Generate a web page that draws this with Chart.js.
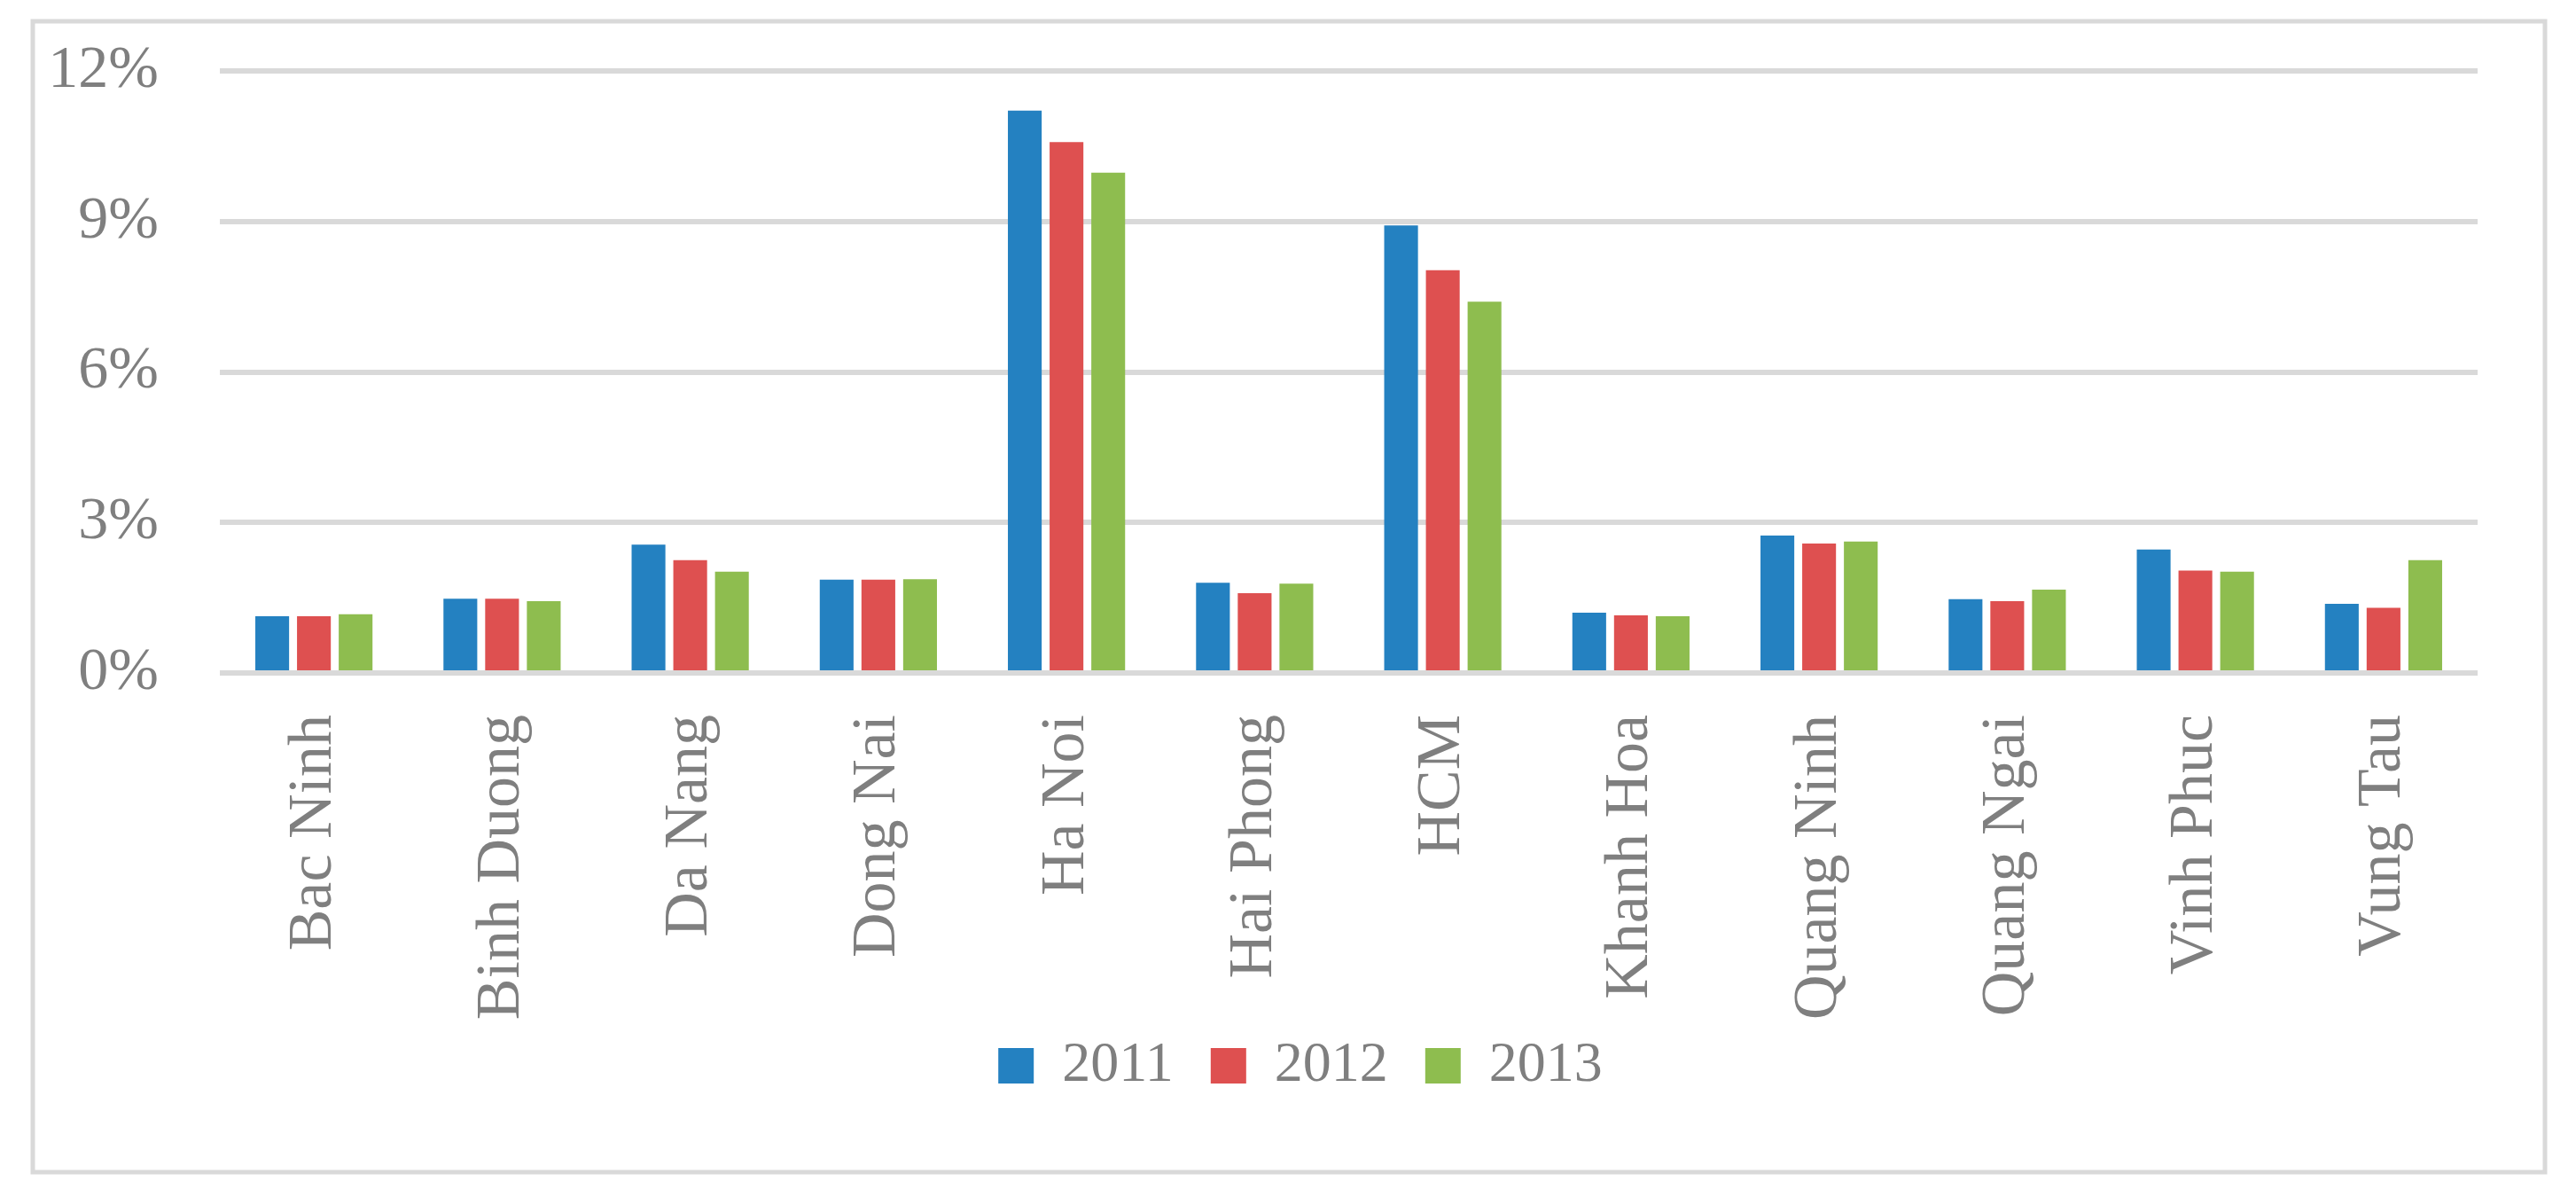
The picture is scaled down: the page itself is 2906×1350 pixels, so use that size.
<!DOCTYPE html>
<html lang="en">
<head>
    <meta charset="UTF-8">
    <title>Provinces share 2011-2013</title>
    <style>
        * { margin: 0; padding: 0; box-sizing: border-box; }
        body { background-color: #ffffff; width: 2906px; height: 1350px; overflow: hidden; }
        #wrap { position: relative; width: 2906px; height: 1350px; }
    </style>
</head>
<body>
    <div id="wrap">
        <canvas id="chart" width="2906" height="1350"></canvas>
    </div>

    <script src="https://cdn.jsdelivr.net/npm/chart.js@4.4.0/dist/chart.umd.min.js"></script>
    <script>
        const provinces = ['Bac Ninh', 'Binh Duong', 'Da Nang', 'Dong Nai', 'Ha Noi', 'Hai Phong', 'HCM',
                           'Khanh Hoa', 'Quang Ninh', 'Quang Ngai', 'Vinh Phuc', 'Vung Tau'];
        const values2011 = [1.13, 1.48, 2.56, 1.86, 11.21, 1.80, 8.92, 1.20, 2.74, 1.47, 2.46, 1.38];
        const values2012 = [1.13, 1.48, 2.25, 1.86, 10.58, 1.59, 8.03, 1.15, 2.58, 1.43, 2.04, 1.30];
        const values2013 = [1.17, 1.43, 2.02, 1.87, 9.97, 1.78, 7.40, 1.13, 2.62, 1.66, 2.02, 2.25];
        const yTicks = [0, 3, 6, 9, 12];

        const textGray = '#7f7f7f';
        const lineGray = '#d9d9d9';
        const serif = "'Liberation Serif', 'DejaVu Serif', serif";

        // white page + thin grey frame round the whole chart
        const framePlugin = {
            id: 'frame',
            afterLayout(chart) {
                // let the long rotated labels run past their scale box (no clipping)
                Object.values(chart.scales).forEach(s => { s._computeLabelArea = () => undefined; });
            },
            beforeDraw(chart) {
                const c = chart.ctx;
                c.save();
                c.fillStyle = '#ffffff';
                c.fillRect(0, 0, chart.width, chart.height);
                c.strokeStyle = lineGray;
                c.lineWidth = 5;
                c.strokeRect(37, 24, 2834, 1298);
                c.restore();
            }
        };

        const ctx = document.getElementById('chart').getContext('2d');
        new Chart(ctx, {
            type: 'bar',
            data: {
                labels: provinces,
                datasets: [
                    { label: '2011', data: values2011, backgroundColor: '#2481C1' },
                    { label: '2012', data: values2012, backgroundColor: '#DE5050' },
                    { label: '2013', data: values2013, backgroundColor: '#8EBD4F' }
                ]
            },
            options: {
                responsive: false,
                animation: false,
                devicePixelRatio: 1,
                layout: { padding: { left: 139, right: 111, top: 80, bottom: 106 } },
                datasets: { bar: { categoryPercentage: 0.665, barPercentage: 0.81 } },
                plugins: {
                    tooltip: { enabled: false },
                    legend: {
                        position: 'bottom',
                        labels: {
                            color: textGray,
                            font: { family: serif, size: 64 },
                            boxWidth: 40,
                            boxHeight: 40,
                            padding: 42
                        }
                    }
                },
                scales: {
                    x: {
                        grid: { display: false },
                        border: { display: false },
                        ticks: {
                            color: textGray,
                            font: { family: serif, size: 70 },
                            minRotation: 90,
                            maxRotation: 90,
                            padding: 39,
                            autoSkip: false
                        },
                        afterFit(scale) { scale.height = 369; }
                    },
                    y: {
                        min: 0,
                        max: 12,
                        border: { display: false },
                        grid: { color: lineGray, lineWidth: 6, drawTicks: false },
                        afterBuildTicks(scale) { scale.ticks = yTicks.map(v => ({ value: v })); },
                        ticks: {
                            color: textGray,
                            font: { family: serif, size: 68 },
                            padding: 69,
                            callback: v => v + '%'
                        },
                        afterFit(scale) {
                            scale.width = 109;
                            // the big tick padding should not push the plot down
                            scale.paddingTop = 40;
                            scale.paddingBottom = 40;
                        }
                    }
                }
            },
            plugins: [framePlugin]
        });
    </script>
</body>
</html>
